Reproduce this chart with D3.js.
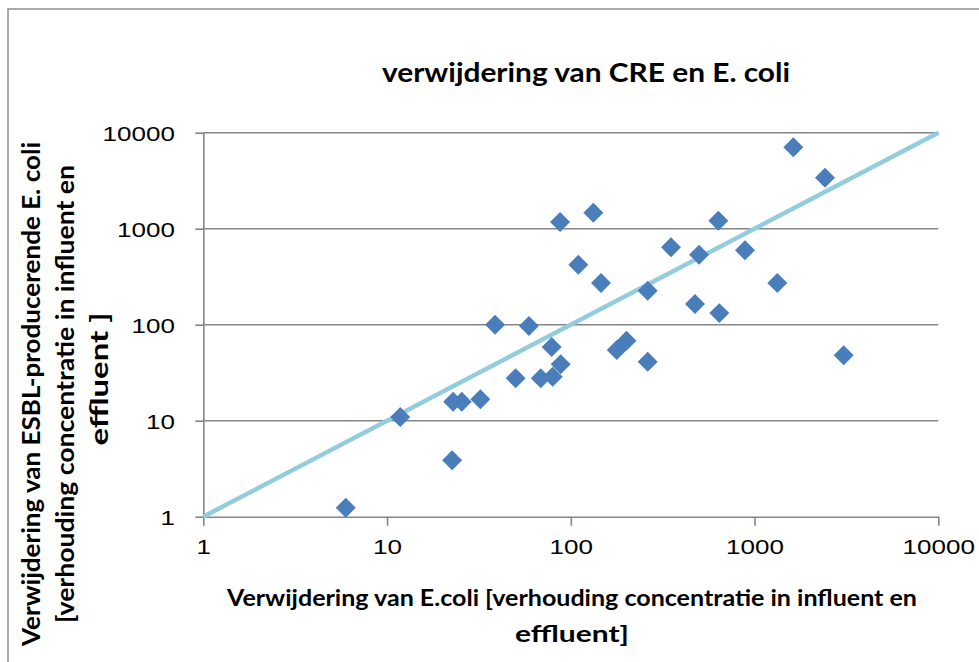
<!DOCTYPE html>
<html>
<head>
<meta charset="utf-8">
<script src="https://cdn.jsdelivr.net/npm/d3@7"></script>
<style>
  html, body { margin: 0; padding: 0; background: #fff; }
  svg { display: block; }
</style>
</head>
<body>
<svg id="chart" width="979" height="662"></svg>
<script>
// ---- data ----
const xTicks = [1, 10, 100, 1000, 10000];
const yTicks = [1, 10, 100, 1000, 10000];
const ecoliRemoval = [5.96, 11.8, 22.6, 22.9, 25.5, 32.2, 38.7, 50.1, 59.2, 68.6, 78.7, 79.7, 88.1, 87.4, 109.9, 132.6, 146, 177.8, 201, 262, 262, 351, 474, 499, 635, 643, 887, 1330, 1625, 2417, 3055];
const esblRemoval  = [1.24, 10.9, 3.87, 15.8, 15.8, 16.7, 100, 27.7, 96.9, 27.7, 58.6, 28.7, 38.7, 1175, 422, 1468, 272, 54.5, 68.1, 226, 41.2, 640, 164, 536, 1211, 132, 596, 272, 7047, 3398, 48];
const refX = [1, 10000];
const refY = [1, 10000];
const title = "verwijdering van CRE en E. coli";
const xTitle = ["Verwijdering van E.coli [verhouding concentratie in influent en", "effluent]"];
const yTitle = ["Verwijdering van ESBL-producerende E. coli", "[verhouding concentratie in influent en", "effluent ]"];

// ---- layout ----
const svg = d3.select("#chart");
const gridColor = "#868686";
const x = d3.scaleLog().domain([1, 10000]).range([203.3, 938.3]);
const y = d3.scaleLog().domain([1, 10000]).range([516.7, 132.7]);
const stretch = 1.24;

svg.append("rect").attr("x", 0).attr("y", 0).attr("width", 979).attr("height", 662).attr("fill", "#fff");
// outer frame
svg.append("rect").attr("x", 8).attr("y", 9).attr("width", 1000).attr("height", 700)
  .attr("fill", "none").attr("stroke", "#8e8e8e").attr("stroke-width", 1.5);

// gridlines
svg.append("g").selectAll("line").data(yTicks.filter(d => d > 1)).join("line")
  .attr("x1", x(1)).attr("x2", x(10000))
  .attr("y1", d => y(d)).attr("y2", d => y(d))
  .attr("stroke", gridColor).attr("stroke-width", 1.6);

// axes
const xAxis = svg.append("g").attr("transform", `translate(0,${y(1)})`)
  .call(d3.axisBottom(x).tickValues(xTicks).tickFormat(d3.format("d")).tickSize(9).tickSizeOuter(0).tickPadding(24));
const yAxis = svg.append("g").attr("transform", `translate(${x(1)},0)`)
  .call(d3.axisLeft(y).tickValues(yTicks).tickFormat(d3.format("d")).tickSize(8).tickSizeOuter(0));

[xAxis, yAxis].forEach(a => {
  a.select(".domain").attr("stroke", gridColor).attr("stroke-width", 1.6);
  a.selectAll(".tick line").attr("stroke", gridColor).attr("stroke-width", 1.6);
  a.selectAll(".tick text")
    .attr("fill", "#000")
    .style("font-family", "'Liberation Sans', Arial, sans-serif")
    .style("font-size", "21px");
});
xAxis.selectAll(".tick text").attr("y", 31).attr("dy", "0.32em")
  .attr("transform", `scale(${stretch},1)`);
yAxis.selectAll(".tick text").attr("x", -28.3 / stretch).attr("dy", "0.36em")
  .attr("transform", `scale(${stretch},1)`);

// reference line y = x
svg.append("path")
  .datum(refX.map((d, i) => [d, refY[i]]))
  .attr("d", d3.line().x(d => x(d[0])).y(d => y(d[1])))
  .attr("fill", "none").attr("stroke", "#93cddd").attr("stroke-width", 4.5);

// points (diamonds)
const diamond = d3.symbol().type(d3.symbolSquare).size(200);
svg.append("g").selectAll("path").data(ecoliRemoval.map((d, i) => [d, esblRemoval[i]])).join("path")
  .attr("d", diamond)
  .attr("transform", d => `translate(${x(d[0])},${y(d[1])}) rotate(45)`)
  .attr("fill", "#4a7ebb");

// title
const boldFont = "Lato, 'Open Sans', sans-serif";
svg.append("text").attr("x", 586).attr("y", 82).attr("text-anchor", "middle")
  .attr("textLength", 408).attr("lengthAdjust", "spacingAndGlyphs")
  .style("font-family", boldFont).style("font-weight", "bold").style("font-size", "26px")
  .text(title);

// x title
const xtLens = [690, 114];
const xtBase = [606, 642];
xTitle.forEach((t, i) => {
  svg.append("text").attr("x", 572).attr("y", xtBase[i]).attr("text-anchor", "middle")
    .attr("textLength", xtLens[i]).attr("lengthAdjust", "spacingAndGlyphs")
    .style("font-family", boldFont).style("font-weight", "bold").style("font-size", "22px")
    .text(t);
});

// y title
const ytLens = [504, 458, 133];
const ytBase = [40, 74, 108];
const ytCenter = [394, 394, 379];
yTitle.forEach((t, i) => {
  svg.append("text")
    .attr("transform", `translate(${ytBase[i]},${ytCenter[i]}) rotate(-90)`)
    .attr("text-anchor", "middle")
    .attr("textLength", ytLens[i]).attr("lengthAdjust", "spacingAndGlyphs")
    .style("font-family", boldFont).style("font-weight", "bold").style("font-size", "25px")
    .text(t);
});
</script>
</body>
</html>
